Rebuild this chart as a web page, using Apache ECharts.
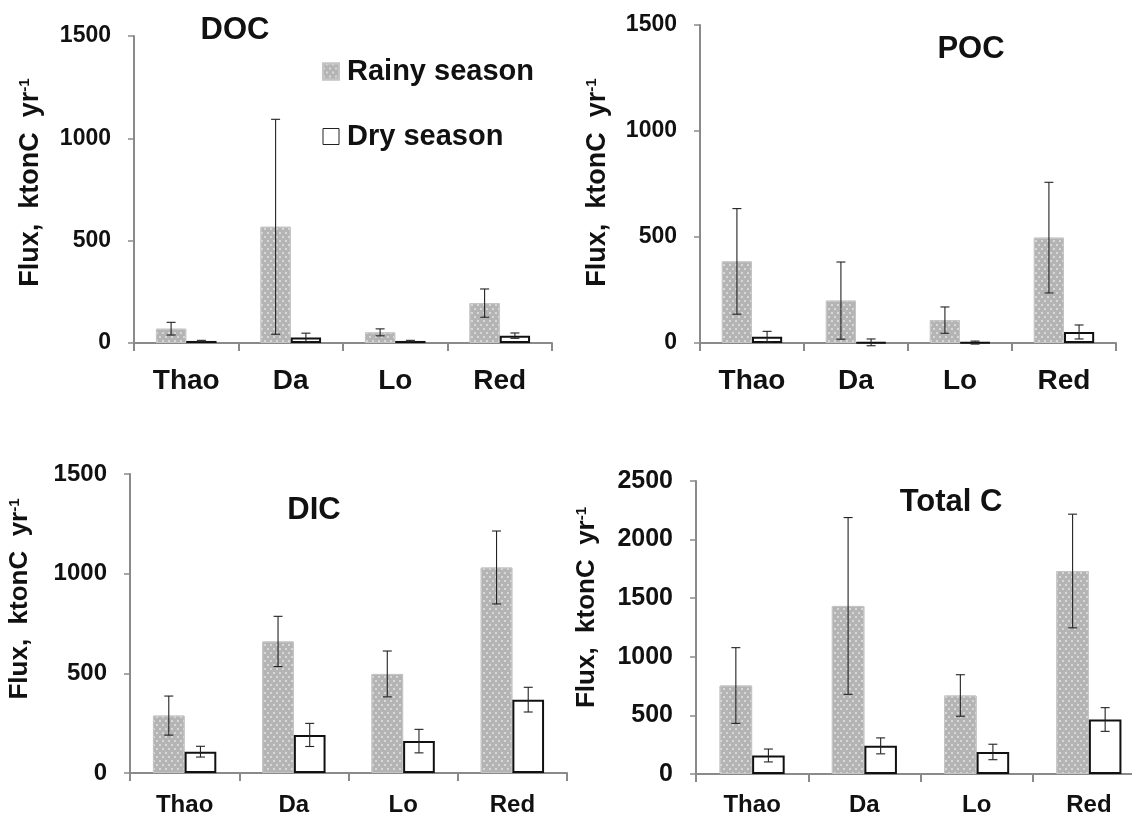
<!DOCTYPE html>
<html>
<head>
<meta charset="utf-8">
<script src="https://cdn.jsdelivr.net/npm/echarts@6/dist/echarts.min.js"></script>
<style>
html,body{margin:0;padding:0;background:#fff;overflow:hidden;}
#chart{width:1150px;height:817px;}
</style>
</head>
<body>
<div id="chart"></div>
<script>
const categories = ['Thao', 'Da', 'Lo', 'Red'];
const panelTitles = ['DOC', 'POC', 'DIC', 'Total C'];
const seriesNames = ['Rainy season', 'Dry season'];
const yAxisNames = ['Flux,  ktonC  yr', 'Flux,  ktonC  yr', 'Flux,  ktonC  yr', 'Flux,  ktonC  yr'];

const docRainy = [70, 568, 52, 195];
const docRainyErr = [31, 525, 17, 69];
const docDry = [10, 27, 10, 36];
const docDryErr = [3, 21, 3, 13];

const pocRainy = [385, 200, 108, 497];
const pocRainyErr = [249, 182, 62, 261];
const pocDry = [30, 3, 2, 52];
const pocDryErr = [25, 16, 7, 33];

const dicRainy = [288, 660, 497, 1031];
const dicRainyErr = [98, 126, 115, 183];
const dicDry = [107, 191, 160, 368];
const dicDryErr = [27, 58, 59, 62];

const totRainy = [755, 1434, 670, 1732];
const totRainyErr = [323, 754, 177, 485];
const totDry = [158, 240, 188, 465];
const totDryErr = [55, 68, 66, 101];

const yMax = [1500, 1500, 1500, 2500];
const yInterval = [500, 500, 500, 500];

const panels = [
  {rainy: docRainy, rainyErr: docRainyErr, dry: docDry, dryErr: docDryErr},
  {rainy: pocRainy, rainyErr: pocRainyErr, dry: pocDry, dryErr: pocDryErr},
  {rainy: dicRainy, rainyErr: dicRainyErr, dry: dicDry, dryErr: dicDryErr},
  {rainy: totRainy, rainyErr: totRainyErr, dry: totDry, dryErr: totDryErr}
];

// layout (pixels)
const grids = [
  {left: 134, width: 418, top: 36, height: 307},
  {left: 700, width: 416, top: 25, height: 318},
  {left: 130, width: 437, top: 474, height: 300},
  {left: 696, width: 449, top: 481, height: 296}
];
const titlePos = [
  {x: 230, y: 10}, {x: 966, y: 29}, {x: 309, y: 490}, {x: 946, y: 482}
];
const nameGaps = [90, 89, 97, 96];
const nameFont = [27, 27, 26, 26];
const namePadStart = [14, 3, 49, 40];
const catFont = [28, 28, 24, 24];
const catMargin = [24, 24, 20, 19];
const valFont = [23, 23, 24, 25];
const valMargin = [23, 23, 23, 23];

const CAT_GAP = 0.42;
const FONT = 'Liberation Sans, Arial, sans-serif';

const rainyStyle = {
  color: '#b4b4b4',
  borderColor: '#c4c4c4',
  borderWidth: 1,
  decal: {
    symbol: 'circle',
    symbolSize: 0.9,
    color: 'rgba(255,255,255,0.7)',
    dashArrayX: [[2, 4], [0, 3, 2, 1]],
    dashArrayY: [2, 2]
  }
};
const dryStyle = {color: '#ffffff', borderColor: '#111', borderWidth: 2};

function errRender(side) {
  return function (params, api) {
    const xi = api.value(0), v = api.value(1), e = api.value(2);
    const band = api.size([1, 0])[0];
    const barW = band * (1 - CAT_GAP) / 2;
    const c = api.coord([xi, v]);
    const cx = c[0] + side * barW / 2;
    const yt = api.coord([xi, v + e])[1];
    const yb = api.coord([xi, v - e])[1];
    const cap = 4.5;
    const st = {stroke: '#222', lineWidth: 1.1};
    return {
      type: 'group',
      children: [
        {type: 'line', shape: {x1: cx, y1: yt, x2: cx, y2: yb}, style: st},
        {type: 'line', shape: {x1: cx - cap, y1: yt, x2: cx + cap, y2: yt}, style: st},
        {type: 'line', shape: {x1: cx - cap, y1: yb, x2: cx + cap, y2: yb}, style: st}
      ]
    };
  };
}

const option = {
  backgroundColor: '#fff',
  animation: false,
  textStyle: {fontFamily: FONT},
  title: panelTitles.map((t, i) => ({
    text: t,
    left: titlePos[i].x,
    top: titlePos[i].y,
    textAlign: 'center',
    textStyle: {fontSize: 31, fontWeight: 'bold', color: '#111', fontFamily: FONT}
  })),
  legend: {
    data: [
      {name: seriesNames[0]},
      {name: seriesNames[1], itemStyle: {borderWidth: 1, borderColor: '#222'}}
    ],
    left: 317,
    top: 52,
    orient: 'vertical',
    itemWidth: 16,
    itemHeight: 16,
    itemGap: 36,
    icon: 'rect',
    textStyle: {fontSize: 29, fontWeight: 'bold', color: '#111', fontFamily: FONT, padding: [0, 0, 0, 3]}
  },
  grid: grids.map(g => ({left: g.left, width: g.width, top: g.top, height: g.height, containLabel: false})),
  xAxis: grids.map((g, i) => ({
    type: 'category',
    gridIndex: i,
    data: categories,
    axisLine: {lineStyle: {color: '#8a8a8a', width: 2}},
    axisTick: {show: true, length: 8, lineStyle: {color: '#8a8a8a', width: 2}},
    axisLabel: {fontSize: catFont[i], fontWeight: 'bold', color: '#111', margin: catMargin[i], fontFamily: FONT}
  })),
  yAxis: grids.map((g, i) => ({
    type: 'value',
    gridIndex: i,
    min: 0,
    max: yMax[i],
    interval: yInterval[i],
    splitLine: {show: false},
    axisLine: {show: true, lineStyle: {color: '#8a8a8a', width: 2}},
    axisTick: {show: true, length: 6, lineStyle: {color: '#8a8a8a', width: 1.5}},
    axisLabel: {
      fontSize: valFont[i], fontWeight: 'bold', color: '#111', margin: valMargin[i], fontFamily: FONT,
      formatter: v => String(v)
    },
    name: '{a|' + yAxisNames[i] + '}{s|-1}',
    nameLocation: 'middle',
    nameGap: nameGaps[i],
    nameTextStyle: {
      padding: [0, 0, 0, namePadStart[i]],
      rich: {
        a: {fontSize: nameFont[i], fontWeight: 'bold', color: '#111', fontFamily: FONT},
        s: {fontSize: 15, fontWeight: 'bold', color: '#111', fontFamily: FONT, verticalAlign: 'top', padding: [0, 0, 11, 0]}
      }
    }
  })),
  series: []
};

panels.forEach((p, i) => {
  option.series.push({
    name: seriesNames[0], type: 'bar', xAxisIndex: i, yAxisIndex: i,
    data: p.rainy, barGap: '0%', barCategoryGap: (CAT_GAP * 100) + '%',
    itemStyle: rainyStyle, z: 2
  });
  option.series.push({
    name: seriesNames[1], type: 'bar', xAxisIndex: i, yAxisIndex: i,
    data: p.dry, barGap: '0%', barCategoryGap: (CAT_GAP * 100) + '%',
    itemStyle: dryStyle, z: 2
  });
  option.series.push({
    type: 'custom', xAxisIndex: i, yAxisIndex: i, z: 5,
    renderItem: errRender(-1),
    data: p.rainy.map((v, k) => [k, v, p.rainyErr[k]])
  });
  option.series.push({
    type: 'custom', xAxisIndex: i, yAxisIndex: i, z: 5,
    renderItem: errRender(1),
    data: p.dry.map((v, k) => [k, v, p.dryErr[k]])
  });
});

const chart = echarts.init(document.getElementById('chart'), null, {renderer: 'canvas'});
chart.setOption(option);
</script>
</body>
</html>
